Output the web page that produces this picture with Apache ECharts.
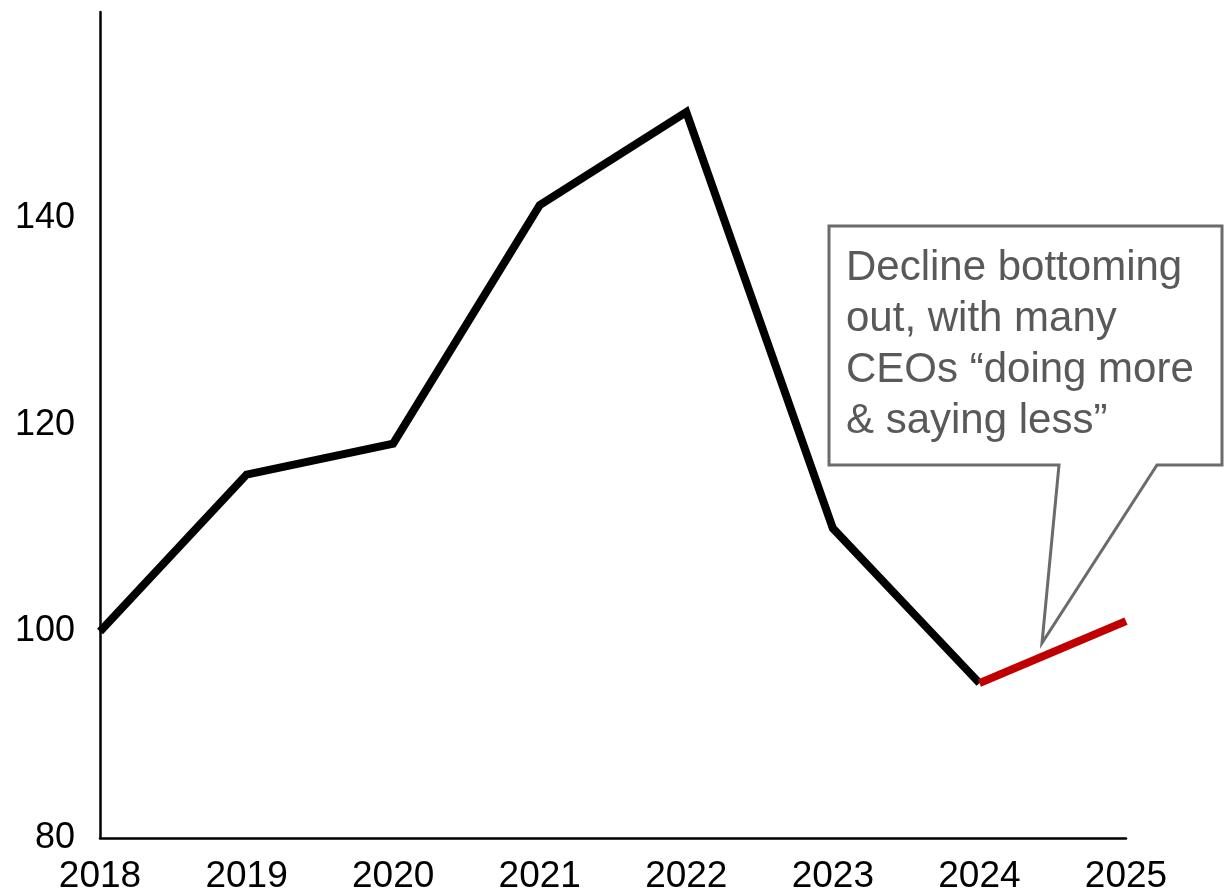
<!DOCTYPE html>
<html>
<head>
<meta charset="utf-8">
<script src="https://cdn.jsdelivr.net/npm/echarts@6/dist/echarts.min.js"></script>
<style>
  html, body { margin: 0; padding: 0; background: #fff; }
  #chart { width: 1224px; height: 895px; }
</style>
</head>
<body>
<div id="chart"></div>
<script>
// Yearly index values (2018 = 100)
const years = ['2018', '2019', '2020', '2021', '2022', '2023', '2024', '2025'];
const actual = [100, 115.2, 118.2, 141.3, 150.3, 110, 95, null];
const outlook = [null, null, null, null, null, null, 95, 101];
const yTicks = [80, 100, 120, 140];
const note = 'Decline bottoming\nout, with many\nCEOs \u201cdoing more\n& saying less\u201d';

const FONT = '"Liberation Sans", Arial, Helvetica, sans-serif';
const chart = echarts.init(document.getElementById('chart'), null, { renderer: 'canvas' });

chart.setOption({
  animation: false,
  backgroundColor: '#ffffff',
  grid: { left: 100, right: 98, top: 12, bottom: 54, containLabel: false },
  xAxis: {
    type: 'category',
    data: years,
    boundaryGap: false,
    axisLine: { lineStyle: { color: '#000', width: 2.5 } },
    axisTick: { show: false },
    axisLabel: { color: '#000', fontSize: 37, fontFamily: FONT, margin: 20 },
    splitLine: { show: false }
  },
  yAxis: {
    type: 'value',
    min: 80,
    max: 160,
    interval: 20,
    axisLine: { show: true, lineStyle: { color: '#000', width: 2.5 } },
    axisTick: { show: false },
    splitLine: { show: false },
    axisLabel: {
      color: '#000', fontSize: 36, fontFamily: FONT, margin: 25,
      formatter: v => (yTicks.indexOf(v) >= 0 ? String(v) : '')
    }
  },
  series: [
    {
      type: 'line',
      data: actual,
      symbol: 'none',
      clip: false,
      lineStyle: { color: '#000', width: 8, cap: 'butt', join: 'miter' },
      z: 2
    },
    {
      type: 'line',
      data: outlook,
      symbol: 'none',
      clip: false,
      lineStyle: { color: '#C00000', width: 8, cap: 'butt', join: 'miter' },
      z: 3
    }
  ],
  graphic: [
    {
      type: 'polygon',
      shape: {
        points: [
          [829, 226], [1222, 226], [1222, 465], [1157, 465],
          [1042, 643], [1059, 465], [829, 465]
        ]
      },
      style: { fill: '#ffffff', stroke: '#6b6b6b', lineWidth: 3 },
      z: 10
    },
    {
      type: 'text',
      left: 846,
      top: 243,
      style: {
        text: note,
        fill: '#595959',
        font: '42px ' + FONT,
        lineHeight: 51
      },
      z: 11
    }
  ]
});
</script>
</body>
</html>
